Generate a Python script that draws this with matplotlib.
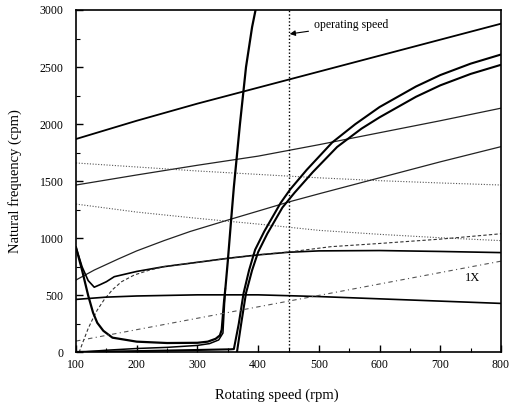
import matplotlib
matplotlib.use("agg")
import matplotlib.pyplot as plt
from matplotlib.ticker import MultipleLocator

plt.rcParams["font.family"] = ["Liberation Serif", "DejaVu Serif"]

# upper straight mode
top_rpm = [100, 200, 300, 400, 500, 600, 700, 800]
top_cpm = [1870, 2030, 2180, 2320, 2460, 2600, 2740, 2880]

# second rising mode
mid_rpm = [100, 200, 300, 400, 500, 600, 700, 800]
mid_cpm = [1467, 1555, 1640, 1720, 1820, 1925, 2030, 2140]

# falling dotted modes
dot1_rpm = [100, 200, 300, 400, 500, 600, 700, 800]
dot1_cpm = [1660, 1625, 1590, 1560, 1530, 1505, 1485, 1467]
dot2_rpm = [100, 200, 300, 400, 500, 600, 700, 800]
dot2_cpm = [1300, 1230, 1175, 1125, 1070, 1035, 1005, 980]

# rising mode from ~630 cpm
a_rpm = [100, 130, 170, 200, 245, 288, 350, 404, 450, 503, 600, 700, 800]
a_cpm = [635, 722, 820, 890, 980, 1060, 1160, 1245, 1318, 1394, 1530, 1670, 1803]

# mode with a dip near 130 rpm
dip_rpm = [100, 110, 120, 130, 140, 150, 163, 200, 245, 300, 350, 400, 450,
           500, 600, 700, 800]
dip_cpm = [920, 750, 630, 572, 595, 620, 664, 710, 752, 790, 825, 855, 878,
           890, 893, 885, 875]

# thin dashed mode rising from zero
dash_rpm = [105, 112, 120, 128, 135, 146, 160, 175, 196, 220, 245, 300, 350,
            400, 450, 520, 600, 700, 800]
dash_cpm = [0, 100, 210, 300, 372, 460, 550, 620, 679, 720, 752, 790, 825,
            855, 880, 927, 955, 993, 1040]

# ~500 cpm mode
flat_rpm = [100, 150, 200, 300, 400, 500, 600, 700, 800]
flat_cpm = [465, 485, 495, 505, 505, 490, 470, 450, 430]

# thick mode dropping to the floor, then shooting up
drop_rpm = [100, 110, 120, 128, 135, 145, 160, 200, 250, 300, 317, 330, 337,
            340, 342, 344, 346, 350, 355, 360, 370, 380, 390, 398]
drop_cpm = [920, 720, 500, 350, 260, 190, 130, 95, 83, 85, 95, 120, 150,
            200, 330, 460, 560, 800, 1130, 1450, 2000, 2500, 2850, 3060]

# low mode joining the steep one
low_rpm = [100, 150, 200, 250, 300, 320, 335, 342, 346]
low_cpm = [0, 20, 35, 45, 62, 78, 110, 170, 560]

# pair of stiffening modes above 360 rpm
up_rpm = [100, 200, 300, 355, 360, 368, 376, 385, 395, 410, 437, 453, 480,
          522, 560, 600, 660, 700, 750, 800]
up_cpm = [5, 12, 22, 28, 30, 250, 520, 720, 900, 1060, 1310, 1430, 1600,
          1840, 2000, 2150, 2330, 2430, 2530, 2610]
lo_rpm = [365, 372, 380, 390, 400, 415, 440, 460, 490, 530, 570, 600, 660,
          700, 750, 800]
lo_cpm = [0, 250, 520, 720, 880, 1040, 1270, 1400, 1580, 1800, 1960, 2060,
          2240, 2340, 2440, 2520]

# 1X excitation line
onex_rpm = [100, 800]
onex_cpm = [100, 800]

op_speed = 450

fig = plt.figure(figsize=(5.14, 4.13), dpi=100)
ax = fig.add_axes([0.1479, 0.1465, 0.8268, 0.8293])

ax.plot(top_rpm, top_cpm, color="black", lw=1.3)
ax.plot(mid_rpm, mid_cpm, color="#222222", lw=0.9)
ax.plot(dot1_rpm, dot1_cpm, color="#555555", lw=0.8, ls=(0, (1, 1.5)))
ax.plot(dot2_rpm, dot2_cpm, color="#555555", lw=0.8, ls=(0, (1, 1.5)))
ax.plot(a_rpm, a_cpm, color="#222222", lw=0.9)
ax.plot(dip_rpm, dip_cpm, color="black", lw=1.2)
ax.plot(dash_rpm, dash_cpm, color="#333333", lw=0.8, ls=(0, (3, 2)))
ax.plot(flat_rpm, flat_cpm, color="black", lw=1.2)
ax.plot(drop_rpm, drop_cpm, color="black", lw=1.6)
ax.plot(low_rpm, low_cpm, color="black", lw=1.1)
ax.plot(up_rpm, up_cpm, color="black", lw=1.5)
ax.plot(lo_rpm, lo_cpm, color="black", lw=1.5)
ax.plot(onex_rpm, onex_cpm, color="#555555", lw=0.8, ls=(0, (4, 3, 1, 3)))

ax.axvline(op_speed, color="black", lw=1.0, ls=(0, (1, 1.5)))
ax.annotate("operating speed", xy=(452, 2790), xytext=(492, 2868),
            fontsize=8.5, va="center", ha="left",
            arrowprops=dict(arrowstyle="-|>", color="black", lw=0.8,
                            mutation_scale=8, shrinkA=2, shrinkB=0))
ax.text(753, 650, "1X", fontsize=9, ha="center", va="center")

ax.set_xlim(100, 800)
ax.set_ylim(0, 3000)
ax.xaxis.set_major_locator(MultipleLocator(100))
ax.xaxis.set_minor_locator(MultipleLocator(50))
ax.yaxis.set_major_locator(MultipleLocator(500))
ax.yaxis.set_minor_locator(MultipleLocator(250))
ax.tick_params(axis="both", which="both", direction="in", labelsize=8.5)
ax.tick_params(axis="both", which="major", length=5, width=1.0)
ax.tick_params(axis="both", which="minor", length=3, width=0.8)
ax.tick_params(axis="y", pad=9)
ax.tick_params(axis="x", pad=5)
for sp in ax.spines.values():
    sp.set_linewidth(1.2)

ax.set_xlabel("Rotating speed (rpm)", fontsize=10.5, labelpad=16)
ax.xaxis.set_label_coords(0.472, -0.105)
ax.set_ylabel("Natural frequency (cpm)", fontsize=10.5, labelpad=13)

fig.savefig("out.png", dpi=100)
plt.close(fig)
